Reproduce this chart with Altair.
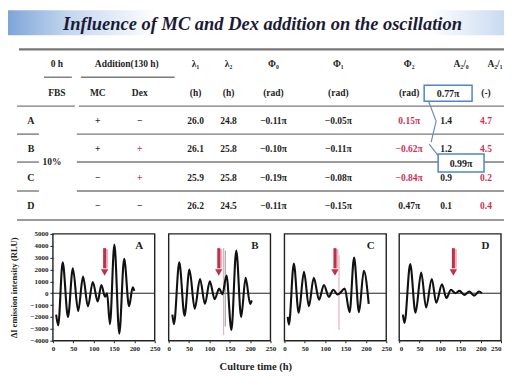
import altair as alt
import pandas as pd

FONT = "Liberation Serif"
RED = "#cc3355"
ARROW = "#c0304a"
INK = "#1e1e1e"

# ---------------- data ----------------
title_text = "Influence of MC and Dex addition on the oscillation"

header1 = ["0 h", "Addition(130 h)", "λ₁", "λ₂", "Φ₀", "Φ₁", "Φ₂", "A₂/₀", "A₂/₁"]
header2 = ["FBS", "MC", "Dex", "(h)", "(h)", "(rad)", "(rad)", "(rad)", "(-)"]
row_names = ["A", "B", "C", "D"]
fbs_value = "10%"
mc = ["+", "+", "−", "−"]
dex = ["−", "+", "+", "−"]
lam1 = ["26.0", "26.1", "25.9", "26.2"]
lam2 = ["24.8", "25.8", "25.8", "24.5"]
phi0 = ["−0.11π", "−0.10π", "−0.19π", "−0.11π"]
phi1 = ["−0.05π", "−0.11π", "−0.08π", "−0.15π"]
phi2 = ["0.15π", "−0.62π", "−0.84π", "0.47π"]
a20 = ["1.4", "1.2", "0.9", "0.1"]
a21 = ["4.7", "4.5", "0.2", "0.4"]
callout1 = "0.77π"
callout2 = "0.99π"

dex_red = [False, True, True, False]
phi2_red = [True, True, True, False]
a21_red = [True, True, True, True]

# time series (h, RLU)
A_t = [8, 13, 24, 37, 49, 62, 74, 86, 98, 110, 119, 128, 133, 140, 151, 163, 175, 187, 196, 200]
A_v = [-1800, -2700, 2600, -2000, 2100, -1500, 1400, -1100, 950, -700, 700, -300, 0, -2600, 4100, -3400, 2900, -1100, 500, 200]
B_t = [9, 13, 26, 39, 51, 64, 77, 89, 101, 113, 124, 132, 142, 154, 166, 178, 189, 200, 204]
B_v = [-1800, -2600, 2600, -1900, 2000, -1300, 1200, -900, 1000, -500, 400, -100, 1500, -3100, 3600, -2000, 1300, -900, -600]
C_t = [8, 11, 23, 35, 48, 60, 72, 85, 97, 109, 120, 130, 136, 148, 160, 171, 183, 195, 207]
C_v = [-2000, -2650, 2500, -1650, 1800, -1100, 1300, -550, 700, -300, 300, -100, 0, 400, -1600, 3000, -1600, 1900, -900]
D_t = [9, 13, 27, 40, 54, 66, 80, 91, 105, 116, 127, 138, 148, 160, 172, 184, 196, 203]
D_v = [-1800, -2500, 2450, -1650, 1750, -1200, 1200, -800, 750, -400, 300, 0, 200, -150, 150, -200, 150, 0]

arrow_t = {"A": 127, "B": 123, "C": 124, "D": 133}
vlines = {"B": [(135, -3500, 3800, "#e6a2b2"), (139, -2800, 3600, "#9a9a9a")],
          "C": [(134, -3100, 3200, "#e6a2b2")]}

y_ticks = [-4000, -3000, -2000, -1000, 0, 1000, 2000, 3000, 4000, 5000]
x_ticks = [0, 50, 100, 150, 200, 250]

# ---------------- layout (page px) ----------------
OX, OY = 54, 8          # page position of the top chart's origin (aligned with panel A)
W_TOP, H_TOP = 452, 220
ROW_Y0, ROW_Y1 = 64, 206
H1_X = [58, 128, 197, 230, 275, 340, 411, 463, 497]
H2_X = [58, 99, 141, 197, 230, 275, 340, 411, 488]
COL_X = {"label": 32, "mc": 99, "dex": 141, "lam1": 197, "lam2": 230,
         "phi0": 275, "phi1": 340, "phi2": 411, "a20": 448, "a21": 488}

rows_all = ["h1", "h2"] + row_names
row_scale = alt.Scale(type="point", domain=rows_all, range=[ROW_Y0 - OY, ROW_Y1 - OY], padding=0)


def px(x):
    return x - OX


def py(y):
    return y - OY


def one():
    return pd.DataFrame({"k": [0]})


def text_layer(rows, texts, colors, x, size=9.5):
    df = pd.DataFrame({"row": rows, "text": texts, "color": colors})
    return alt.Chart(df).mark_text(font=FONT, fontWeight="bold", fontSize=size,
                                   baseline="middle", align="center").encode(
        x=alt.value(px(x)),
        y=alt.Y("row:N", scale=row_scale, axis=None),
        text="text:N",
        color=alt.Color("color:N", scale=None),
    )


def hline(x1, x2, y, color="#7a7a7a", width=1.4):
    return alt.Chart(one()).mark_rule(color=color, strokeWidth=width).encode(
        x=alt.value(px(x1)), x2=alt.value(px(x2)), y=alt.value(py(y)))


def seg(x1, y1, x2, y2, color="#6d8db5", width=1.2):
    return alt.Chart(one()).mark_rule(color=color, strokeWidth=width).encode(
        x=alt.value(px(x1)), x2=alt.value(px(x2)), y=alt.value(py(y1)), y2=alt.value(py(y2)))


def box(x1, y1, x2, y2, label):
    r = alt.Chart(one()).mark_rect(fill="white", stroke="#4f86c6", strokeWidth=1.5).encode(
        x=alt.value(px(x1)), x2=alt.value(px(x2)), y=alt.value(py(y1)), y2=alt.value(py(y2)))
    t = alt.Chart(one()).mark_text(font=FONT, fontWeight="bold", fontSize=10, color=INK).encode(
        x=alt.value(px((x1 + x2) / 2)), y=alt.value(py((y1 + y2) / 2) + 1), text=alt.value(label))
    return [r, t]


layers = []
band = alt.Chart(one()).mark_rect(
    color=alt.Gradient(gradient="linear", x1=0, x2=1, y1=0, y2=0,
                       stops=[alt.GradientStop(offset=0, color="#7ea5d8"),
                              alt.GradientStop(offset=0.12, color="#c2d6ef"),
                              alt.GradientStop(offset=0.3, color="#ffffff"),
                              alt.GradientStop(offset=0.85, color="#ffffff"),
                              alt.GradientStop(offset=1, color="#c9dbf1")])).encode(
    x=alt.value(px(9)), x2=alt.value(px(506)), y=alt.value(py(10)), y2=alt.value(py(35)))
layers.append(band)
layers.append(alt.Chart(one()).mark_text(
    font=FONT, fontStyle="italic", fontWeight="bold", fontSize=18.5, color="#1b1b36").encode(
    x=alt.value(px(264)), y=alt.value(py(24)), text=alt.value(title_text)))
layers.append(hline(20, 506, 49, color="#777777", width=2.2))

# table lines
layers.append(hline(45, 73, 77))
layers.append(hline(82, 176, 77))
layers.append(hline(18, 76, 106))
layers.append(hline(80, 506, 106))
for yy in [134, 162, 191]:
    layers.append(hline(18, 40, yy))
    layers.append(hline(78, 506, yy))
layers.append(hline(18, 506, 220))

for txt, x in zip(header1, H1_X):
    layers.append(text_layer(["h1"], [txt], [INK], x))
for txt, x in zip(header2, H2_X):
    layers.append(text_layer(["h2"], [txt], [INK], x))

black4 = [INK] * 4


def reds(flags):
    return [RED if f else INK for f in flags]


layers.append(text_layer(row_names, row_names, black4, COL_X["label"], size=10))
layers.append(text_layer(row_names, mc, black4, COL_X["mc"]))
layers.append(text_layer(row_names, dex, reds(dex_red), COL_X["dex"]))
layers.append(text_layer(row_names, lam1, black4, COL_X["lam1"]))
layers.append(text_layer(row_names, lam2, black4, COL_X["lam2"]))
layers.append(text_layer(row_names, phi0, black4, COL_X["phi0"]))
layers.append(text_layer(row_names, phi1, black4, COL_X["phi1"]))
layers.append(text_layer(row_names, phi2, reds(phi2_red), COL_X["phi2"]))
layers.append(text_layer(row_names, a20, black4, COL_X["a20"]))
layers.append(text_layer(row_names, a21, reds(a21_red), COL_X["a21"]))

layers.append(alt.Chart(one()).mark_text(
    font=FONT, fontWeight="bold", fontSize=9.5, color=INK).encode(
    x=alt.value(px(53)), y=alt.value(py(162)), text=alt.value(fbs_value)))

layers.append(seg(430, 100, 438, 121))
layers.append(seg(438, 121, 433, 142))
layers.append(seg(442, 158, 431, 144))
layers += box(426, 85, 474, 101, callout1)
layers += box(440, 154, 486, 172, callout2)

top = alt.layer(*layers).properties(width=W_TOP, height=H_TOP)

# ---------------- panels ----------------
PW, PH = 102, 107
xs = alt.Scale(domain=[0, 250], nice=False, zero=False)
ys = alt.Scale(domain=[-4000, 5000], nice=False)


def panel(name, t, v, first, last):
    df = pd.DataFrame({"t": t, "v": v})
    xaxis = alt.Axis(values=x_ticks, title=None, labelFlush=last, labelFont=FONT, labelFontWeight="bold",
                     labelFontSize=7, labelColor=INK, tickSize=2, tickColor=INK, labelPadding=2,
                     domain=False, grid=False)
    if first:
        yaxis = alt.Axis(values=y_ticks, format="d", title="ΔI emission intensity (RLU)", labelFont=FONT,
                         labelFontWeight="bold", labelFontSize=7, labelColor=INK, tickSize=3,
                         tickColor=INK, labelPadding=2, titleFont=FONT, titleFontSize=8.5,
                         titleFontWeight="bold", titleColor=INK, titlePadding=11, domain=False, grid=False)
    else:
        yaxis = None
    frame = alt.Chart(one()).mark_rect(filled=False, stroke="#222", strokeWidth=1.4).encode(
        x=alt.value(0), x2=alt.value(PW), y=alt.value(0), y2=alt.value(PH))
    zero = alt.Chart(pd.DataFrame({"z": [0]})).mark_rule(color="#222", strokeWidth=1).encode(
        y=alt.Y("z:Q", scale=ys, axis=yaxis))
    layer_list = [zero]
    for (tt, lo, hi, col) in vlines.get(name, []):
        layer_list.append(alt.Chart(pd.DataFrame({"t": [tt], "lo": [lo], "hi": [hi]})).mark_rule(
            color=col, strokeWidth=1).encode(x=alt.X("t:Q", scale=xs, axis=xaxis),
                                             y=alt.Y("lo:Q", scale=ys, axis=yaxis), y2="hi:Q"))
    line = alt.Chart(df).mark_line(color="#111", strokeWidth=2.1, interpolate="monotone").encode(
        x=alt.X("t:Q", scale=xs, axis=xaxis), y=alt.Y("v:Q", scale=ys, axis=yaxis))
    layer_list.append(line)
    adf = pd.DataFrame({"t": [arrow_t[name]], "top": [3800], "bot": [2100], "tip": [1750]})
    layer_list.append(alt.Chart(adf).mark_rule(color="#eab3c0", strokeWidth=3, xOffset=2, yOffset=1).encode(
        x=alt.X("t:Q", scale=xs, axis=xaxis), y=alt.Y("top:Q", scale=ys, axis=yaxis), y2="bot:Q"))
    layer_list.append(alt.Chart(adf).mark_rule(color=ARROW, strokeWidth=3).encode(
        x=alt.X("t:Q", scale=xs, axis=xaxis), y=alt.Y("top:Q", scale=ys, axis=yaxis), y2="bot:Q"))
    layer_list.append(alt.Chart(adf).mark_point(shape="triangle-down", filled=True, size=55,
                                                color=ARROW, opacity=1).encode(
        x=alt.X("t:Q", scale=xs, axis=xaxis), y=alt.Y("tip:Q", scale=ys, axis=yaxis)))
    ldf = pd.DataFrame({"t": [212], "v": [4000], "lab": [name]})
    layer_list.append(alt.Chart(ldf).mark_text(font=FONT, fontWeight="bold", fontSize=11, color=INK).encode(
        x=alt.X("t:Q", scale=xs, axis=xaxis), y=alt.Y("v:Q", scale=ys, axis=yaxis), text="lab:N"))
    layer_list.append(frame)
    return alt.layer(*layer_list).properties(width=PW, height=PH)


bottom = alt.hconcat(
    panel("A", A_t, A_v, True, False),
    panel("B", B_t, B_v, False, False),
    panel("C", C_t, C_v, False, False),
    panel("D", D_t, D_v, False, True),
    spacing=6,
).properties(title=alt.TitleParams("Culture time (h)", orient="bottom", font=FONT, fontSize=10.5,
                                   fontWeight="bold", color=INK, offset=10, anchor="middle"))

chart = alt.vconcat(top, bottom, spacing=2).properties(padding=0).configure_view(strokeWidth=0)

chart.save("out.html", embed_options={"renderer": "svg", "actions": False})
